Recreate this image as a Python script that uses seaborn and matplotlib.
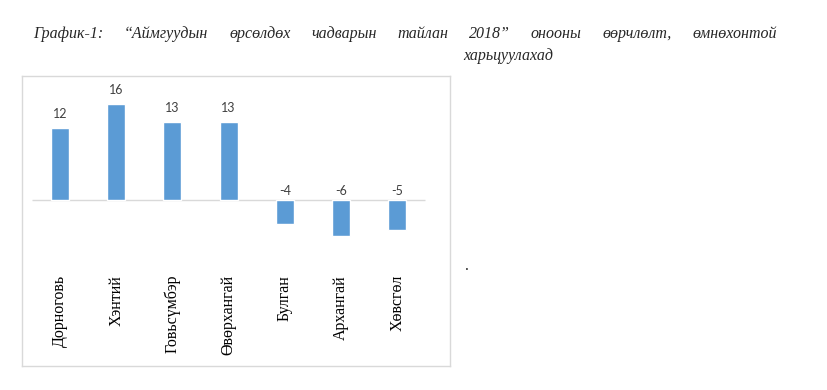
import pandas as pd
import matplotlib.pyplot as plt
import seaborn as sns

# Data
regions = ['Дорноговь', 'Хэнтий', 'Говьсүмбэр', 'Өвөрхангай', 'Булган', 'Архангай', 'Хөвсгөл']
changes = [12, 16, 13, 13, -4, -6, -5]
title_line1 = ['График-1:', '“Аймгуудын', 'өрсөлдөх', 'чадварын', 'тайлан',
               '2018”', 'онооны', 'өөрчлөлт,', 'өмнөхонтой']
title_line2 = 'харьцуулахад'

df = pd.DataFrame({'region': regions, 'change': changes})

sns.set_style('white')
plt.rcParams['font.family'] = ['Liberation Serif', 'DejaVu Serif']

W, H = 828, 390
fig = plt.figure(figsize=(W / 100, H / 100), dpi=100)

# chart box in pixel coords
left, top, right, bottom = 22, 76, 450, 366
ax = fig.add_axes([left / W, 1 - bottom / H, (right - left) / W, (bottom - top) / H])

sns.barplot(data=df, x='region', y='change', color='#5b9bd5', width=0.32,
            saturation=1, ax=ax, zorder=2)

ax.set_xlim(-0.676, 6.94)
ax.set_ylim(-27.67, 20.67)
ax.hlines(0, -0.5, 6.5, color='#d9d9d9', lw=1, zorder=1)
ax.set_xticks([])
ax.set_yticks([])
ax.set_xlabel('')
ax.set_ylabel('')
for s in ax.spines.values():
    s.set_color('#d9d9d9')
    s.set_linewidth(1)

# value labels
for i, v in enumerate(changes):
    y = v if v > 0 else 0
    ax.annotate(str(v), (i, y), xytext=(0, 6 if v > 0 else 2), textcoords='offset points',
                ha='center', va='bottom', fontsize=9, family=['Lato', 'DejaVu Sans'],
                color='#404040')

# category labels, rotated
for i, name in enumerate(regions):
    ax.text(i, -12.5, name, rotation=90, ha='center', va='top', fontsize=11.5,
            color='black')

# justified title
renderer = fig.canvas.get_renderer()
x0, x1 = 33 / W, 777 / W
y1 = 1 - 34 / H
texts = [fig.text(0, y1, w, fontsize=11.5, style='italic', va='center', ha='left')
         for w in title_line1]
widths = [t.get_window_extent(renderer).width / W for t in texts]
gap = (x1 - x0 - sum(widths)) / (len(texts) - 1)
x = x0
for t, w in zip(texts, widths):
    t.set_x(x)
    x += w + gap
fig.text(463 / W, 1 - 56 / H, title_line2, fontsize=11.5, style='italic', va='center', ha='left')

fig.text(467 / W, 1 - 266 / H, '.', fontsize=11.5, ha='center', va='center')

fig.savefig('out.png', dpi=100)
